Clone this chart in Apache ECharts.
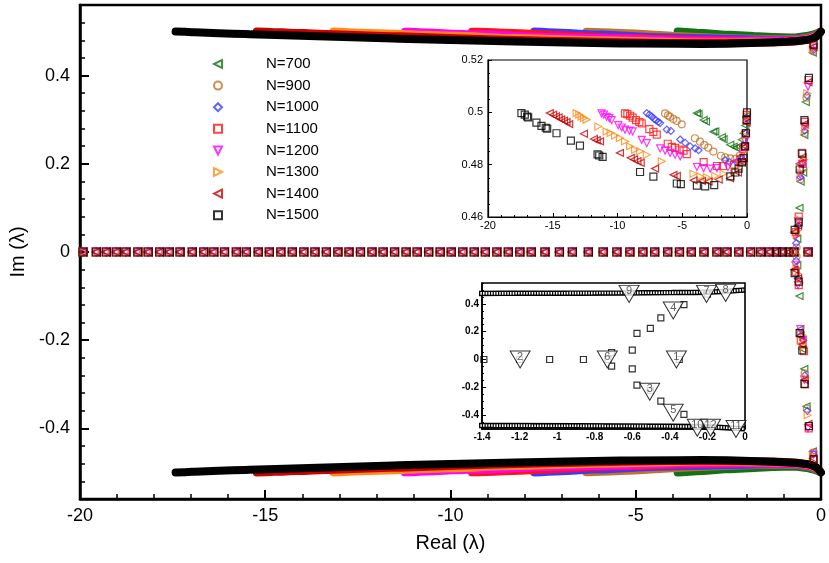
<!DOCTYPE html>
<html><head><meta charset="utf-8">
<script src="https://cdn.jsdelivr.net/npm/echarts@6/dist/echarts.min.js"></script>
<style>html,body{margin:0;padding:0;background:#fff}#c{width:829px;height:563px}</style>
</head><body><div id="c"></div>
<script>
// ---------------- DATA ----------------
const seriesNames = ['N=700','N=900','N=1000','N=1100','N=1200','N=1300','N=1400','N=1500'];

// upper branch eigenvalues [Re, Im] (lower branch is the complex conjugate)
const up700 = [[-3.87,0.4997],[-3.74,0.4994],[-3.35,0.4971],[-3.17,0.4965],[-2.60,0.4926],[-2.45,0.4927],[-1.94,0.4905],[-1.81,0.4897],[-1.29,0.4876],[-1.03,0.4869],[-0.83,0.4865],[-0.65,0.4869],[-0.39,0.4895],[-0.26,0.492],[-0.13,0.495],[-0.04,0.4985]];
const up900 = [[-6.33,0.4996],[-6.10,0.4988],[-5.95,0.4983],[-5.69,0.4975],[-5.43,0.4967],[-5.04,0.4954],[-4.02,0.4901],[-3.63,0.4888],[-3.30,0.4875],[-2.99,0.4865],[-2.60,0.4850],[-2.01,0.4834],[-1.68,0.4828],[-1.29,0.4824],[-0.90,0.4822],[-0.55,0.4835],[-0.30,0.487],[-0.15,0.492],[-0.03,0.4985]];
const up1000 = [[-7.74,0.4997],[-7.54,0.4991],[-7.35,0.4984],[-7.17,0.4975],[-7.02,0.4969],[-6.84,0.4963],[-6.71,0.4959],[-6.19,0.4934],[-5.88,0.4929],[-5.16,0.4896],[-4.77,0.4883],[-4.39,0.4870],[-4.00,0.4862],[-3.74,0.4855],[-1.68,0.4817],[-1.34,0.4810],[-0.80,0.4810],[-0.45,0.4830],[-0.25,0.487],[-0.12,0.492],[-0.03,0.498]];
const up1100 = [[-9.42,0.4996],[-9.24,0.4993],[-9.03,0.4987],[-8.83,0.4980],[-8.57,0.4970],[-8.31,0.4963],[-8.13,0.4958],[-7.54,0.4936],[-7.23,0.4925],[-6.97,0.4915],[-6.12,0.4880],[-5.81,0.4868],[-5.55,0.4864],[-5.21,0.4858],[-4.90,0.4854],[-4.65,0.4840],[-3.35,0.4810],[-2.32,0.4795],[-1.86,0.4795],[-1.00,0.4800],[-0.50,0.4820],[-0.25,0.486],[-0.10,0.492],[-0.02,0.499]];
const up1200 = [[-11.23,0.4996],[-11.05,0.4991],[-10.84,0.4983],[-10.63,0.4978],[-10.45,0.4970],[-9.94,0.4951],[-9.68,0.4942],[-9.42,0.4934],[-9.08,0.4930],[-8.83,0.4927],[-8.13,0.4895],[-7.74,0.4882],[-6.71,0.4862],[-6.32,0.4854],[-5.94,0.4845],[-5.55,0.4838],[-5.16,0.4832],[-3.87,0.4791],[-3.35,0.4787],[-2.84,0.4785],[-2.32,0.4787],[-1.47,0.4790],[-0.70,0.4805],[-0.35,0.4840],[-0.15,0.489],[-0.03,0.497]];
const up1300 = [[-13.16,0.4997],[-12.95,0.4991],[-12.77,0.4984],[-12.59,0.4978],[-12.39,0.4972],[-11.48,0.4946],[-10.84,0.4927],[-10.53,0.4921],[-10.19,0.4911],[-9.81,0.4902],[-9.42,0.4889],[-9.03,0.4870],[-8.65,0.4857],[-8.26,0.4851],[-7.74,0.4838],[-6.58,0.4813],[-4.13,0.4765],[-3.61,0.4755],[-3.10,0.4752],[-2.45,0.4757],[-1.81,0.4765],[-1.00,0.4775],[-0.50,0.4800],[-0.25,0.485],[-0.10,0.491],[-0.02,0.498]];
const up1400 = [[-15.23,0.4997],[-14.97,0.4991],[-14.76,0.4984],[-14.55,0.4980],[-14.35,0.4973],[-14.14,0.4968],[-13.94,0.4963],[-13.73,0.4955],[-12.59,0.4918],[-11.82,0.4898],[-11.61,0.4893],[-11.35,0.4889],[-9.81,0.4845],[-8.98,0.4826],[-8.72,0.4820],[-8.46,0.4813],[-8.21,0.4807],[-7.10,0.4785],[-5.68,0.4761],[-5.42,0.4757],[-4.13,0.4740],[-3.48,0.4738],[-2.97,0.4736],[-2.19,0.4743],[-1.30,0.4748],[-0.70,0.4770],[-0.35,0.4810],[-0.15,0.487],[-0.03,0.496]];
const up1500 = [[-17.42,0.4997],[-17.16,0.4991],[-16.98,0.4984],[-16.90,0.4981],[-16.26,0.4961],[-15.87,0.4948],[-15.54,0.4941],[-15.43,0.4938],[-14.71,0.4920],[-13.60,0.4892],[-12.90,0.4873],[-11.54,0.4839],[-11.41,0.4835],[-11.15,0.4830],[-8.26,0.4772],[-7.23,0.4754],[-5.42,0.4728],[-5.11,0.4726],[-3.87,0.4720],[-3.23,0.4717],[-2.53,0.4722],[-1.29,0.4755],[-0.90,0.4770],[-0.65,0.4785],[-0.39,0.4809],[-0.26,0.4825],[-0.15,0.487],[-0.08,0.492],[-0.03,0.497],[0.00,0.500]];

// real eigenvalues (Im = 0)
const realEig = [-19.92,-19.56,-19.29,-19.02,-18.76,-18.44,-18.16,-17.85,-17.59,-17.30,-16.97,-16.66,-16.39,-16.10,-15.78,-15.51,-15.19,-14.89,-14.58,-14.27,-13.96,-13.66,-13.35,-13.04,-12.74,-12.43,-12.12,-11.82,-11.51,-11.20,-10.90,-10.59,-10.28,-9.98,-9.67,-9.36,-9.06,-8.75,-8.44,-8.13,-7.82,-7.45,-7.06,-6.71,-6.28,-5.88,-5.51,-5.16,-4.81,-4.49,-4.14,-3.82,-3.50,-3.16,-2.81,-2.54,-2.22,-1.90,-1.63,-1.39,-1.20,-1.04,-0.86,-0.73,-0.35];

// isolated eigenvalues near Re ~ -0.7 .. -0.2
const col700  = [[-0.64,0.03],[-0.64,-0.03],[-0.58,0.10],[-0.58,-0.10],[-0.55,0.16],[-0.56,-0.175],[-0.48,0.18],[-0.50,-0.22],[-0.45,0.265],[-0.45,-0.265],[-0.41,0.34],[-0.39,-0.35],[-0.22,0.452],[-0.22,-0.452]];
const col900  = [[-0.66,0.01],[-0.66,-0.01],[-0.61,0.055],[-0.61,-0.055],[-0.56,0.165],[-0.55,-0.185],[-0.48,0.19],[-0.48,-0.195],[-0.44,0.27],[-0.44,-0.275],[-0.39,0.35],[-0.38,-0.355],[-0.21,0.455],[-0.21,-0.455]];
const col1000 = [[-0.67,0.02],[-0.67,-0.02],[-0.62,0.06],[-0.62,-0.06],[-0.56,0.17],[-0.55,-0.19],[-0.49,0.20],[-0.48,-0.20],[-0.44,0.275],[-0.44,-0.28],[-0.38,0.355],[-0.37,-0.36],[-0.20,0.458],[-0.20,-0.458]];
const col1100 = [[-0.68,0.045],[-0.68,-0.045],[-0.60,0.08],[-0.60,-0.075],[-0.52,0.225],[-0.54,-0.20],[-0.50,0.20],[-0.46,-0.225],[-0.43,0.295],[-0.43,-0.30],[-0.34,0.39],[-0.33,-0.40],[-0.20,0.466],[-0.20,-0.47]];
const col1200 = [[-0.69,0.035],[-0.69,-0.03],[-0.62,0.07],[-0.62,-0.075],[-0.56,0.175],[-0.56,-0.175],[-0.50,0.20],[-0.50,-0.20],[-0.45,0.285],[-0.45,-0.29],[-0.35,0.375],[-0.35,-0.40],[-0.20,0.462],[-0.20,-0.46]];
const col1300 = [[-0.66,0.04],[-0.66,-0.035],[-0.60,0.075],[-0.58,-0.07],[-0.55,0.18],[-0.55,-0.20],[-0.46,0.21],[-0.47,-0.215],[-0.43,0.28],[-0.43,-0.285],[-0.37,0.36],[-0.36,-0.37],[-0.22,0.46],[-0.22,-0.462]];
const col1400 = [[-0.72,0.045],[-0.72,-0.04],[-0.62,0.06],[-0.62,-0.06],[-0.58,0.20],[-0.56,-0.19],[-0.50,0.215],[-0.50,-0.21],[-0.44,0.29],[-0.44,-0.29],[-0.34,0.385],[-0.34,-0.39],[-0.21,0.465],[-0.21,-0.468]];
const col1500 = [[-0.71,0.05],[-0.71,-0.048],[-0.60,0.067],[-0.60,-0.067],[-0.575,0.187],[-0.575,-0.184],[-0.504,0.223],[-0.504,-0.223],[-0.448,0.299],[-0.448,-0.299],[-0.325,0.395],[-0.325,-0.395],[-0.20,0.47],[-0.20,-0.47]];

// numbered callouts in the lower inset
const calloutText = ['1','2','3','4','5','6','7','8','9','10','11','12'];
const calloutRe   = [-0.365,-1.197,-0.507,-0.382,-0.382,-0.733,-0.205,-0.103,-0.617,-0.254,-0.048,-0.183];
const calloutIm   = [0,0,-0.232,0.352,-0.383,0,0.472,0.479,0.472,-0.491,-0.500,-0.491];

// axis ranges
const mainY   = {min:-0.56, max:0.56, minor:0.04, labMin:-0.4, labMax:0.4, major:0.2};
const inset2Y = {min:-0.5, max:0.55, minor:0.05, labMin:-0.4, labMax:0.4, major:0.2};

// ---------------- STYLE / LAYOUT ----------------
const TRI_LEFT  = 'path://M0,5L10,0L10,10Z';
const TRI_RIGHT = 'path://M10,5L0,0L0,10Z';
const TRI_DOWN  = 'path://M0,0L10,0L5,10Z';
const seriesColors  = ['#137313','#c27328','#3b3bff','#ff1414','#ff00ff','#ff8c1a','#cc0000','#000000'];
const seriesSymbols = [TRI_LEFT,'circle','diamond','rect',TRI_DOWN,TRI_RIGHT,TRI_LEFT,'rect'];
const FONT = '"Liberation Sans", Arial, Helvetica, sans-serif';

const G0 = {left:80, top:5, width:748, height:494};
const G1 = {left:488, top:60, width:259, height:157};
const G2 = {left:482, top:283, width:263, height:146};
function labelGrid(g, r) {
  const ppu = g.height / (r.max - r.min);
  return {left:g.left, width:g.width, top: g.top + (r.max - r.labMax) * ppu, height: (r.labMax - r.labMin) * ppu};
}
const G3 = labelGrid(G0, mainY);
const G4 = labelGrid(G2, inset2Y);

const ups  = [up700,up900,up1000,up1100,up1200,up1300,up1400,up1500];
const cols = [col700,col900,col1000,col1100,col1200,col1300,col1400,col1500];
const conj = arr => arr.map(p => [p[0], -p[1]]);

function mk(i, size) {
  return {
    symbol: seriesSymbols[i], symbolSize: size,
    itemStyle: {color: 'rgba(0,0,0,0)', borderColor: seriesColors[i], borderWidth: 1.2}
  };
}

const series = [];
ups.forEach((u, i) => {
  series.push(Object.assign({type:'scatter', name: seriesNames[i], xAxisIndex:0, yAxisIndex:0, z:4,
    data: realEig.map(r => [r, 0])}, mk(i, 8)));
});
ups.forEach((u, i) => {
  [u, conj(u)].forEach(d => series.push({type:'line', name:'band'+i, xAxisIndex:0, yAxisIndex:0, z:2,
    data: d, showSymbol:false, symbol:'none', silent:true,
    lineStyle:{color: seriesColors[i], width: 8, cap:'round', join:'round'}}));
});
cols.forEach((c, i) => {
  series.push(Object.assign({type:'scatter', name:'col'+i, xAxisIndex:0, yAxisIndex:0, z:4, data: c}, mk(i, 7)));
});
ups.forEach((u, i) => {
  series.push(Object.assign({type:'scatter', name:'in1_'+i, xAxisIndex:1, yAxisIndex:1, z:5, data: u}, mk(i, 7)));
});
[up1500, conj(up1500)].forEach((d, k) => {
  series.push({type:'line', name:'in2bandA'+k, xAxisIndex:2, yAxisIndex:2, z:5, data: d, showSymbol:false, symbol:'none', silent:true,
    lineStyle:{color:'#000', width:5.5}});
  series.push({type:'line', name:'in2bandB'+k, xAxisIndex:2, yAxisIndex:2, z:5, data: d, showSymbol:false, symbol:'none', silent:true,
    lineStyle:{color:'#fff', width:2.6, type:[1.5,1.2]}});
});
series.push(Object.assign({type:'scatter', name:'in2real', xAxisIndex:2, yAxisIndex:2, z:6,
  data: realEig.filter(r => r >= -1.4).map(r => [r, 0])}, mk(7, 6)));
series.push(Object.assign({type:'scatter', name:'in2col', xAxisIndex:2, yAxisIndex:2, z:6, data: col1500}, mk(7, 6)));
series.push({type:'scatter', name:'callouts', xAxisIndex:2, yAxisIndex:2, z:8,
  data: calloutText.map((t, k) => ({name: t, value: [calloutRe[k], calloutIm[k]]})),
  symbol: TRI_DOWN, symbolSize:[20,17],
  itemStyle:{color:'#fff', borderColor:'#000', borderWidth:1},
  label:{show:true, position:'inside', offset:[0,-3], formatter: p => p.name, fontSize:11, color:'#333', fontFamily: FONT}});

const tk = (len, w) => ({inside:true, length:len, lineStyle:{color:'#000', width:w}});
const line = w => ({onZero:false, lineStyle:{color:'#000', width:w}});
const hiddenX = g => ({gridIndex:g, type:'value', min:0, max:1, show:false, axisLine:{onZero:false}});

const option = {
  animation: false,
  backgroundColor: '#fff',
  textStyle: {fontFamily: FONT},
  legend: {data: seriesNames, orient:'vertical', left:208, top:51, itemWidth:8, itemHeight:8, itemGap:5.6,
    selectedMode:false, textStyle:{fontSize:15, color:'#000', fontFamily: FONT, lineHeight:16, padding:[0,0,0,39]}},
  grid: [
    Object.assign({show:true, borderColor:'#000', borderWidth:2.5, backgroundColor:'rgba(0,0,0,0)'}, G0),
    Object.assign({show:true, borderColor:'#000', borderWidth:1.2, backgroundColor:'#fff'}, G1),
    Object.assign({show:true, borderColor:'#000', borderWidth:1.6, backgroundColor:'#fff'}, G2),
    Object.assign({show:false}, G3),
    Object.assign({show:false}, G4)
  ],
  xAxis: [
    {gridIndex:0, type:'value', min:-20, max:0, interval:5, position:'bottom',
      name:'Real (\u03bb)', nameLocation:'middle', nameGap:34, nameTextStyle:{fontSize:20, color:'#000', fontFamily: FONT},
      axisLine: line(2.5),
      axisTick: tk(9, 2),
      minorTick:{show:true, splitNumber:5, length:5, lineStyle:{color:'#000', width:1.5}},
      splitLine:{show:false}, minorSplitLine:{show:false},
      axisLabel:{fontSize:18, color:'#000', margin:8, fontFamily: FONT}},
    {gridIndex:1, type:'value', min:-20, max:0, interval:5, position:'bottom',
      axisLine: line(1.2),
      axisTick: tk(4, 1),
      minorTick:{show:true, splitNumber:5, length:2, lineStyle:{color:'#000', width:1}},
      splitLine:{show:false},
      axisLabel:{fontSize:11, color:'#000', margin:3, fontFamily: FONT}},
    {gridIndex:2, type:'value', min:-1.4, max:0, interval:0.2, position:'bottom',
      axisLine: line(1.6),
      axisTick: tk(4, 1),
      minorTick:{show:true, splitNumber:4, length:2, lineStyle:{color:'#000', width:1}},
      splitLine:{show:false},
      axisLabel:{fontSize:10, fontWeight:'bold', color:'#000', margin:3, fontFamily: FONT}},
    hiddenX(3), hiddenX(4)
  ],
  yAxis: [
    {gridIndex:0, type:'value', min:mainY.min, max:mainY.max, interval:mainY.minor, position:'left',
      name:'Im (\u03bb)', nameLocation:'middle', nameGap:52, nameTextStyle:{fontSize:20, color:'#000', fontFamily: FONT},
      axisLine: line(2.5),
      axisTick: tk(5, 1.5), axisLabel:{show:false}, splitLine:{show:false}},
    {gridIndex:1, type:'value', min:0.46, max:0.52, interval:0.02, position:'left',
      axisLine: line(1.2),
      axisTick: tk(4, 1),
      minorTick:{show:true, splitNumber:4, length:2, lineStyle:{color:'#000', width:1}},
      splitLine:{show:false},
      axisLabel:{fontSize:11, color:'#000', margin:5, fontFamily: FONT}},
    {gridIndex:2, type:'value', min:inset2Y.min, max:inset2Y.max, interval:inset2Y.minor, position:'left',
      axisLine: line(1.6),
      axisTick: tk(2, 1), axisLabel:{show:false}, splitLine:{show:false}},
    {gridIndex:3, type:'value', min:mainY.labMin, max:mainY.labMax, interval:mainY.major, position:'left',
      axisLine:{show:false, onZero:false}, axisTick: tk(9, 2), splitLine:{show:false},
      axisLabel:{fontSize:18, color:'#000', margin:10, fontFamily: FONT}},
    {gridIndex:4, type:'value', min:inset2Y.labMin, max:inset2Y.labMax, interval:inset2Y.major, position:'left',
      axisLine:{show:false, onZero:false}, axisTick: tk(4, 1), splitLine:{show:false},
      axisLabel:{fontSize:10, fontWeight:'bold', color:'#000', margin:3, fontFamily: FONT}}
  ],
  series: series
};
const chart = echarts.init(document.getElementById('c'));
chart.setOption(option);
</script></body></html>
